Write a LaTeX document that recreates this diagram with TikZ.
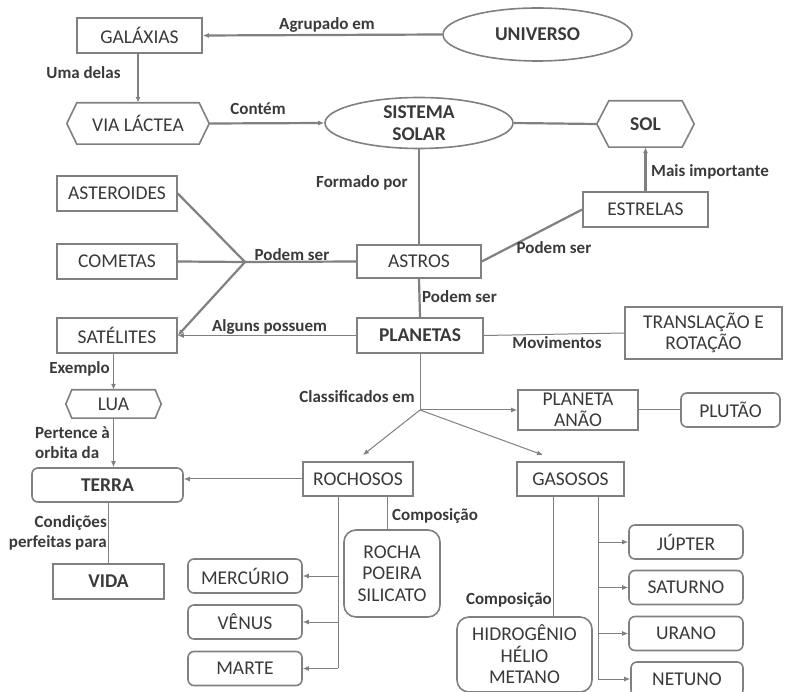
\documentclass[tikz,border=0pt]{standalone}
\usepackage{fontspec}
\setmainfont{Carlito}
\usetikzlibrary{shapes.geometric,arrows.meta,calc}
\definecolor{lg}{HTML}{808080}
\definecolor{tg}{HTML}{3A3A3A}
\newcommand{\nfont}{\fontsize{19.5}{21.5}\selectfont}
\newcommand{\lfont}{\fontsize{17}{20}\selectfont\bfseries}
\tikzset{
  box/.style={draw=lg, line width=1.6pt, fill=white, text=tg, font=\nfont, inner sep=0pt, align=center},
  rbox/.style={box, rounded corners=6pt},
  rrbox/.style={box, rounded corners=12pt},
  ell/.style={box, ellipse, font=\nfont\bfseries},
  hexn/.style={inner sep=0pt, text=tg, font=\nfont, align=center},
  hexline/.style={draw=lg, line width=1.6pt},
  lbl/.style={text=tg, font=\lfont, inner sep=0pt},
  thk/.style={draw=lg, line width=2.2pt},
  thn/.style={draw=lg, line width=1pt},
  arr/.style={-{Latex[length=6pt,width=5pt]}},
}
\newcommand{\hexdraw}[2]{\draw[hexline,fill=white] (#1.west) -- ([xshift=#2]#1.north west) -- ([xshift=-#2]#1.north east) -- (#1.east) -- ([xshift=-#2]#1.south east) -- ([xshift=#2]#1.south west) -- cycle;}
\begin{document}
\begin{tikzpicture}[x=1pt,y=-1pt]
\useasboundingbox (0,0) rectangle (785,692);
\clip (0,0) rectangle (785,692);
\fill[white] (0,0) rectangle (785,692);

% nodes
\node[box, minimum width=125pt, minimum height=35pt] (gal) at (139.5,35.5) {GAL\'AXIAS};
\node[ell, minimum width=189pt, minimum height=53pt] (uni) at (537.5,34.5) {UNIVERSO};
\node[hexn, minimum width=142pt, minimum height=41pt] (via) at (138,123.5) {};
\node[ell, minimum width=188pt, minimum height=51pt] (sis) at (419,123) {SISTEMA\\SOLAR};
\node[hexn, minimum width=97pt, minimum height=46pt] (sol) at (645.5,124) {};
\node[box, minimum width=125pt, minimum height=35pt] (est) at (645.5,209.5) {ESTRELAS};
\node[box, minimum width=124pt, minimum height=33pt] (ast) at (419,261.5) {ASTROS};
\node[box, minimum width=120pt, minimum height=35pt] (aster) at (117,193.5) {ASTEROIDES};
\node[box, minimum width=120pt, minimum height=35pt] (com) at (117,261.5) {COMETAS};
\node[box, minimum width=120pt, minimum height=35pt] (sat) at (117,335.5) {SAT\'ELITES};
\node[box, minimum width=126pt, minimum height=35pt, font=\nfont\bfseries] (pla) at (420,335.5) {PLANETAS};
\node[box, minimum width=157pt, minimum height=52pt] (tra) at (703.5,333) {TRANSLA\c{C}\~AO E\\ROTA\c{C}\~AO};
\node[box, minimum width=120pt, minimum height=40pt] (pan) at (578,410) {PLANETA\\AN\~AO};
\node[rbox, minimum width=99pt, minimum height=34pt] (plu) at (730.5,410) {PLUT\~AO};
\node[box, minimum width=107pt, minimum height=34pt] (gas) at (570.5,479) {GASOSOS};
\node[box, minimum width=110pt, minimum height=34pt] (roc) at (358,479) {ROCHOSOS};
\node[rbox, minimum width=151pt, minimum height=34pt, font=\nfont\bfseries] (ter) at (107.5,485) {TERRA};
\node[hexn, minimum width=95pt, minimum height=28pt] (lua) at (113.5,404) {};
\node[box, minimum width=111pt, minimum height=35pt, font=\nfont\bfseries] (vida) at (108.5,581.5) {VIDA};
\node[rbox, minimum width=114pt, minimum height=34pt] (mer) at (245,576) {MERC\'URIO};
\node[rbox, minimum width=114pt, minimum height=34pt] (ven) at (245,622) {V\^ENUS};
\node[rbox, minimum width=114pt, minimum height=34pt] (mar) at (245,668.5) {MARTE};
\node[rrbox, minimum width=96pt, minimum height=87pt] (rps) at (392,573.5) {ROCHA\\POEIRA\\SILICATO};
\node[rrbox, minimum width=135pt, minimum height=75pt] (hid) at (524.5,654.5) {HIDROG\^ENIO\\H\'ELIO\\METANO};
\node[rbox, minimum width=114pt, minimum height=34pt] (jup) at (686,542) {J\'UPTER};
\node[rbox, minimum width=114pt, minimum height=34pt] (satu) at (686,587.5) {SATURNO};
\node[rbox, minimum width=114pt, minimum height=34pt] (ura) at (686,633.5) {URANO};
\node[rbox, minimum width=112pt, minimum height=34pt] (net) at (687,679) {NETUNO};

% hexagons
\hexdraw{via}{10pt}
\node[hexn] at (via) {VIA L\'ACTEA};
\hexdraw{sol}{12pt}
\node[hexn, font=\nfont\bfseries] at (sol) {SOL};
\hexdraw{lua}{6pt}
\node[hexn] at (lua) {LUA};

% coordinates
\coordinate (j1) at (245,262);
\coordinate (j2) at (420,410);
\coordinate (gasin) at (543,455);
\coordinate (rocin) at (363,455);
\coordinate (rtrunk) at (338,668);
\coordinate (rc) at (387,0);
\coordinate (gc) at (553,0);
\coordinate (gtrunk) at (598,679);

% upper connectors (thick)
\draw[thk, arr] (uni.west) -- (gal.east);
\draw[thk, arr] (gal.south -| via.north) -- (via.north);
\draw[thk, arr] (via.east) -- (sis.west);
\draw[thk] (sis.east) -- (sol.west);
\draw[thk, arr] (est.north) -- (sol.south);
\draw[thk] (sis.south) -- (ast.north);
\draw[thk] (ast.east) -- (est.west);
\draw[thk] (aster.east) -- (j1);
\draw[thk] (com.east) -- (j1);
\draw[thk, arr] (j1) -- (sat.east);
\draw[thk] (j1) -- (ast.west);
\draw[thk] (ast.south) -- (pla.north);

% lower connectors (thin)
\draw[thn, arr] (pla.west) -- (sat.east);
\draw[thn] (pla.east) -- (tra.west);
\draw[thn] (pla.south) -- (j2);
\draw[thn, arr] (j2) -- (pan.west);
\draw[thn, arr] (j2) -- (gasin);
\draw[thn, arr] (j2) -- (rocin);
\draw[thn] (pan.east) -- (plu.west);
\draw[thn, arr] (roc.west) -- (roc.west -| ter.east);
\draw[thn, arr] (sat.south -| lua.north) -- (lua.north);
\draw[thn, arr] (lua.south) -- (lua.south |- ter.north);
\draw[thn] (ter.south -| vida.north) -- (vida.north);
\draw[thn] (rtrunk |- roc.south) -- (rtrunk);
\draw[thn, arr] (mer.east -| rtrunk) -- (mer.east);
\draw[thn, arr] (ven.east -| rtrunk) -- (ven.east);
\draw[thn, arr] (mar.east -| rtrunk) -- (mar.east);
\draw[thn] (roc.south -| rc) -- (rps.north -| rc);
\draw[thn] (gas.south -| gc) -- (hid.north -| gc);
\draw[thn] (gtrunk |- gas.south) -- (gtrunk);
\draw[thn, arr] (jup.west -| gtrunk) -- (jup.west);
\draw[thn, arr] (satu.west -| gtrunk) -- (satu.west);
\draw[thn, arr] (ura.west -| gtrunk) -- (ura.west);
\draw[thn, arr] (net.west -| gtrunk) -- (net.west);

% labels
\node[lbl] (l1) at (327,25) {Agrupado em};
\node[lbl] (l2) at (83.5,73) {Uma delas};
\node[lbl] (l3) at (258,109) {Cont\'em};
\node[lbl, anchor=west] (l4) at (316,183) {Formado por};
\node[lbl, anchor=west] (l5) at (651,172) {Mais importante};
\node[lbl] (l6) at (292,255) {Podem ser};
\node[lbl] (l7) at (554,248) {Podem ser};
\node[lbl, anchor=west] (l8) at (422,297) {Podem ser};
\node[lbl] (l9) at (269.5,327) {Alguns possuem};
\node[lbl] (l10) at (557,343) {Movimentos};
\node[lbl, anchor=east] (l11) at (415,397) {Classificados em};
\node[lbl, anchor=east] (l12) at (110,369) {Exemplo};
\node[lbl, anchor=west, align=left] (l13) at (35,442.5) {Pertence \`a\\orbita da};
\node[lbl, anchor=east, align=right] (l14) at (107,532.5) {Condi\c{c}\~oes\\perfeitas para};
\node[lbl, anchor=west] (l15) at (392,516) {Composi\c{c}\~ao};
\node[lbl, anchor=east] (l16) at (552,600) {Composi\c{c}\~ao};
\end{tikzpicture}
\end{document}
